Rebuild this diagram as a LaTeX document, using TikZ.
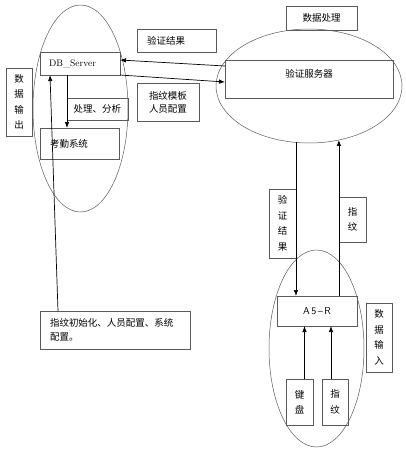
\documentclass[tikz,border=0pt]{standalone}
\usepackage{fontspec}
\newfontfamily\cjk{Noto Sans CJK SC}
\usepackage{tikz}
\usetikzlibrary{arrows.meta, shapes.geometric}
\definecolor{linegray}{RGB}{90,90,90}

\begin{document}
\begin{tikzpicture}[x=1pt, y=-1pt, >={Latex[length=6pt,width=4.5pt]},
  box/.style={draw=linegray, line width=0.6pt, inner sep=0pt, outer sep=0pt,
              font=\cjk\fontsize{9.5}{13}\selectfont, align=center},
  vbox/.style={box, font=\cjk\fontsize{9.5}{15.5}\selectfont},
  ell/.style={ellipse, draw=linegray, line width=0.5pt, inner sep=0pt, outer sep=0pt},
  link/.style={->, line width=0.7pt}]
  \useasboundingbox (0,0) rectangle (406,451);
  \node[ell, minimum width=95pt, minimum height=207pt] (ellL) at (80.5,108.5) {};
  \node[ell, minimum width=186pt, minimum height=114pt] (ellR) at (309,86) {};
  \node[ell, minimum width=95pt, minimum height=197pt] (ellB) at (316.5,348.5) {};
  \node[box, minimum height=23pt, text width=62pt, inner xsep=9pt, align=left,
    font=\fontsize{9.5}{12}\selectfont] (dbs) at (80,63.5) {DB\_Server};
  \node[box, minimum width=61pt, minimum height=22pt] (anl) at (97.5,109) {处理、分析};
  \node[box, minimum height=31pt, text width=59pt, inner xsep=10pt, align=left] (att)
    at (79.5,143.5) {考勤系统};
  \node[vbox, minimum width=26pt, minimum height=68pt] (dout) at (19,102) {数\\据\\输\\出};
  \node[box, minimum height=23pt, text width=59pt, inner xsep=10pt, align=left] (res)
    at (176.5,40.5) {验证结果};
  \node[box, minimum width=62pt, minimum height=38pt] (tmpl) at (168,102) {指纹模板\\人员配置};
  \node[box, minimum width=71pt, minimum height=24pt] (dproc) at (321.5,18) {数据处理};
  \node[box, minimum width=168pt, minimum height=38pt, text height=8pt, text depth=12pt] (vsrv)
    at (309,79) {验证服务器};
  \node[vbox, minimum width=27pt, minimum height=69pt] (vres) at (282.5,223.5) {验\\证\\结\\果};
  \node[vbox, minimum width=27pt, minimum height=45pt] (fpa) at (352.5,219.5) {指\\纹};
  \node[box, minimum width=80pt, minimum height=30pt, font=\sffamily\fontsize{10}{12}\selectfont] (a5r)
    at (317,311) {A\hspace{1.5pt}5\hspace{1.5pt}–\hspace{1.5pt}R};
  \node[vbox, minimum width=26pt, minimum height=69pt] (din) at (379,337.5) {数\\据\\输\\入};
  \node[vbox, minimum width=27pt, minimum height=46pt] (kbd) at (299.5,402) {键\\盘};
  \node[vbox, minimum width=26pt, minimum height=46pt] (fpb) at (335,402) {指\\纹};
  \node[box, minimum height=38pt, text width=130pt, inner xsep=10pt, align=left,
    font=\cjk\fontsize{9.5}{14}\selectfont] (init) at (115,330) {指纹初始化、人员配置、系统\\配置。};
  \draw[link] ([yshift=-6pt]vsrv.north west) -- ([yshift=-8pt]dbs.north east);
  \draw[link] (dbs.south east) -- ([yshift=-22pt]vsrv.north west);
  \draw[link] (dbs.south -| anl.west) -- (att.north -| anl.west);
  \draw[link] ([xshift=18pt]init.north west) -- ([xshift=10pt]dbs.south west);
  \draw[link] (ellR.-103) -- (ellR.-103 |- a5r.north);
  \draw[link] (ellR.-61 |- a5r.north) -- (ellR.-61);
  \draw[link] ([xshift=5pt]kbd.north) -- ([xshift=5pt]kbd.north |- a5r.south);
  \draw[link] ([xshift=-4pt]fpb.north) -- ([xshift=-4pt]fpb.north |- a5r.south);
\end{tikzpicture}
\end{document}
